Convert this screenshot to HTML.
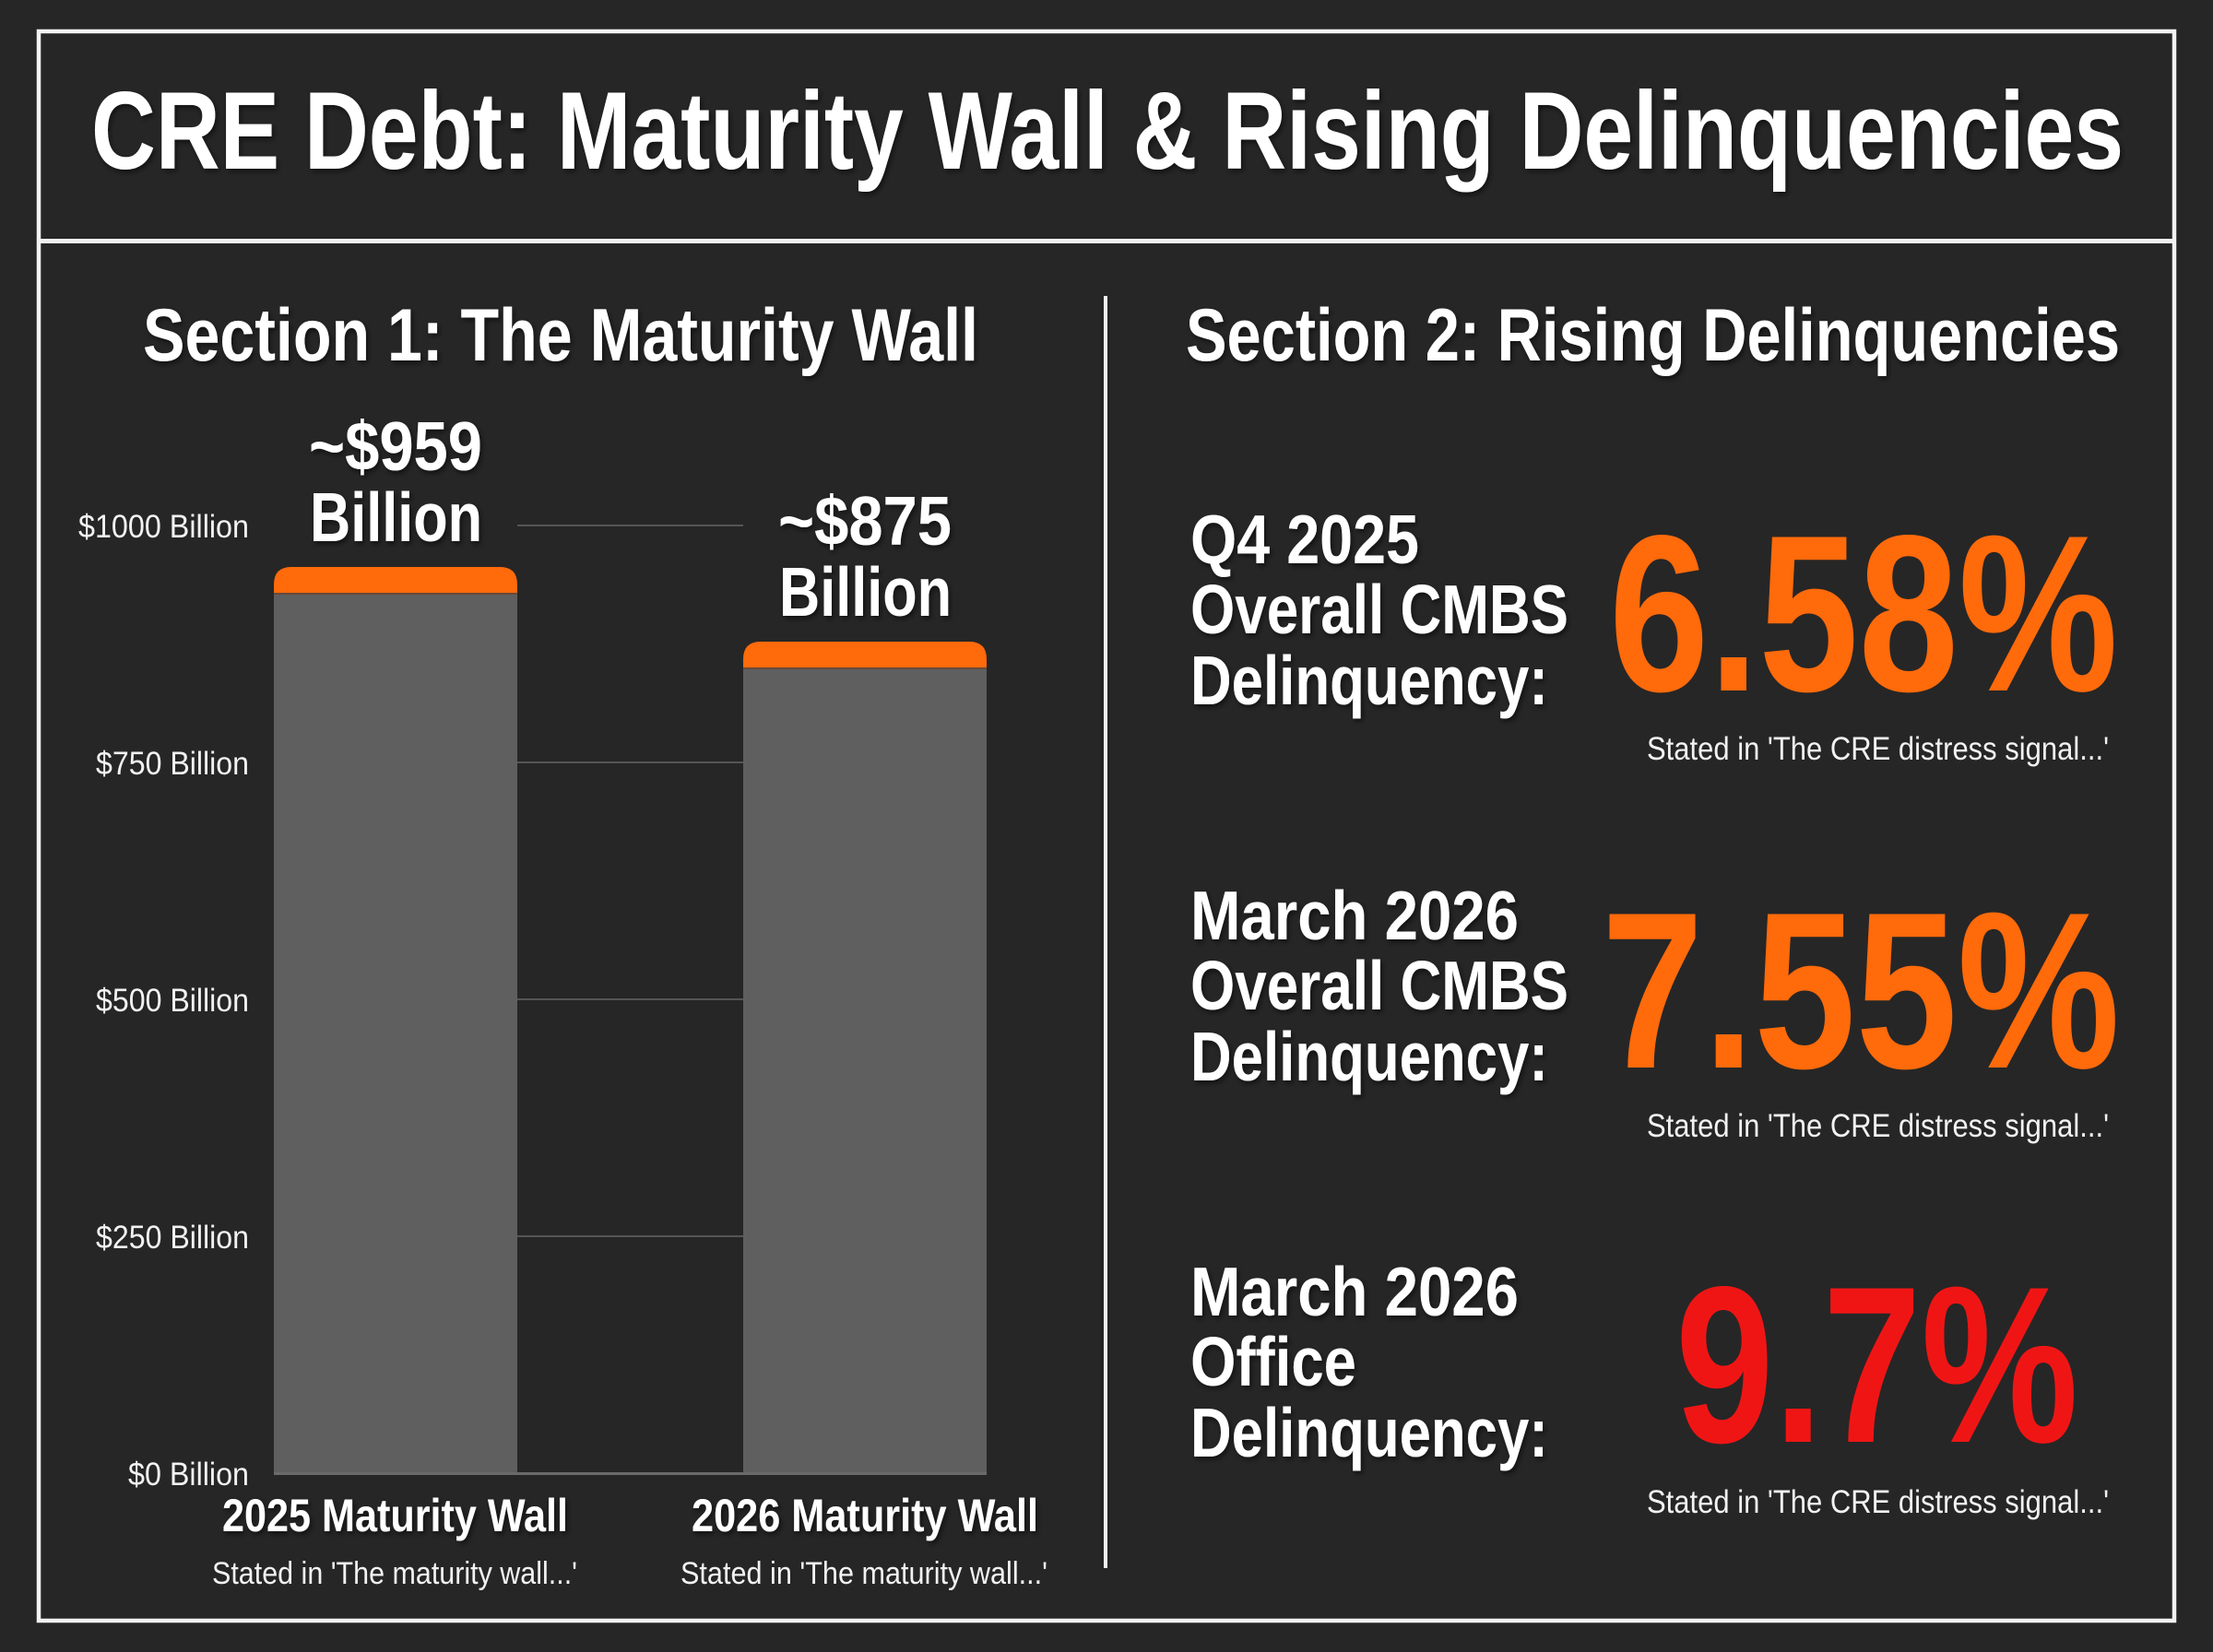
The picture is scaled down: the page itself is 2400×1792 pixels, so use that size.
<!DOCTYPE html>
<html>
<head>
<meta charset="utf-8">
<style>
  html,body{margin:0;padding:0;background:#262626;}
  svg{display:block;}
  text{font-family:"Liberation Sans",Arial,sans-serif;}
  .b{font-weight:bold;fill:#ffffff;}
  .r{font-weight:normal;fill:#f2f2f2;}
</style>
</head>
<body>
<svg width="2400" height="1792" viewBox="0 0 2400 1792" xmlns="http://www.w3.org/2000/svg">
  <defs>
    <filter id="sh" x="-5%" y="-20%" width="110%" height="140%">
      <feDropShadow dx="2" dy="3" stdDeviation="3" flood-color="#000" flood-opacity="0.55"/>
    </filter>
  </defs>
  <rect x="0" y="0" width="2400" height="1792" fill="#262626"/>

  <!-- outer border -->
  <rect x="42" y="34" width="2316" height="1724" fill="none" stroke="#f2f2f2" stroke-width="4.5"/>
  <!-- title divider -->
  <rect x="42" y="259" width="2316" height="5" fill="#f2f2f2"/>
  <!-- vertical divider -->
  <rect x="1197" y="321" width="4" height="1380" fill="#f2f2f2"/>

  <!-- Title -->
  <text class="b" x="99" y="183" font-size="120" textLength="2204" lengthAdjust="spacingAndGlyphs" filter="url(#sh)">CRE Debt: Maturity Wall &amp; Rising Delinquencies</text>

  <!-- Section titles -->
  <text class="b" x="155" y="391" font-size="81" textLength="906" lengthAdjust="spacingAndGlyphs" filter="url(#sh)">Section 1: The Maturity Wall</text>
  <text class="b" x="1286" y="391" font-size="81" textLength="1013" lengthAdjust="spacingAndGlyphs" filter="url(#sh)">Section 2: Rising Delinquencies</text>

  <!-- Gridlines (between bars) -->
  <g stroke="#555555" stroke-width="2">
    <line x1="561" y1="570" x2="806" y2="570"/>
    <line x1="561" y1="827" x2="806" y2="827"/>
    <line x1="561" y1="1084" x2="806" y2="1084"/>
    <line x1="561" y1="1341" x2="806" y2="1341"/>
  </g>

  <!-- Bars -->
  <path d="M297,644 L297,634 Q297,615 316,615 L542,615 Q561,615 561,634 L561,644 Z" fill="#ff6a0b"/>
  <rect x="297" y="644" width="264" height="954" fill="#5f5f60"/>
  <rect x="297" y="643" width="264" height="2" fill="#6a4a38"/>
  <path d="M806,725 L806,715 Q806,696 825,696 L1051,696 Q1070,696 1070,715 L1070,725 Z" fill="#ff6a0b"/>
  <rect x="806" y="725" width="264" height="873" fill="#5f5f60"/>
  <rect x="806" y="724" width="264" height="2" fill="#6a4a38"/>
  <!-- baseline -->
  <rect x="297" y="1597" width="773" height="3" fill="#6a6a6a"/>

  <!-- Y labels -->
  <g class="r" font-size="35" text-anchor="end">
    <text class="r" x="270" y="583" textLength="185" lengthAdjust="spacingAndGlyphs">$1000 Billion</text>
    <text class="r" x="270" y="840" textLength="166" lengthAdjust="spacingAndGlyphs">$750 Billion</text>
    <text class="r" x="270" y="1097" textLength="166" lengthAdjust="spacingAndGlyphs">$500 Billion</text>
    <text class="r" x="270" y="1354" textLength="166" lengthAdjust="spacingAndGlyphs">$250 Billion</text>
    <text class="r" x="270" y="1611" textLength="131" lengthAdjust="spacingAndGlyphs">$0 Billion</text>
  </g>

  <!-- Value labels -->
  <g filter="url(#sh)">
    <text class="b" x="335" y="510" font-size="75" textLength="188" lengthAdjust="spacingAndGlyphs">~$959</text>
    <text class="b" x="336" y="587" font-size="75" textLength="187" lengthAdjust="spacingAndGlyphs">Billion</text>
    <text class="b" x="844" y="591" font-size="75" textLength="188" lengthAdjust="spacingAndGlyphs">~$875</text>
    <text class="b" x="845" y="668" font-size="75" textLength="187" lengthAdjust="spacingAndGlyphs">Billion</text>
  </g>

  <!-- Category labels -->
  <g filter="url(#sh)">
    <text class="b" x="241" y="1661" font-size="50" textLength="375" lengthAdjust="spacingAndGlyphs">2025 Maturity Wall</text>
    <text class="b" x="750" y="1661" font-size="50" textLength="376" lengthAdjust="spacingAndGlyphs">2026 Maturity Wall</text>
  </g>
  <text class="r" x="230" y="1718" font-size="34" textLength="396" lengthAdjust="spacingAndGlyphs">Stated in 'The maturity wall...'</text>
  <text class="r" x="738" y="1718" font-size="34" textLength="398" lengthAdjust="spacingAndGlyphs">Stated in 'The maturity wall...'</text>

  <!-- Section 2 labels -->
  <g filter="url(#sh)">
    <text class="b" x="1291" y="611" font-size="75" textLength="248" lengthAdjust="spacingAndGlyphs">Q4 2025</text>
    <text class="b" x="1291" y="687" font-size="75" textLength="410" lengthAdjust="spacingAndGlyphs">Overall CMBS</text>
    <text class="b" x="1291" y="764" font-size="75" textLength="388" lengthAdjust="spacingAndGlyphs">Delinquency:</text>

    <text class="b" x="1291" y="1019" font-size="75" textLength="356" lengthAdjust="spacingAndGlyphs">March 2026</text>
    <text class="b" x="1291" y="1095" font-size="75" textLength="410" lengthAdjust="spacingAndGlyphs">Overall CMBS</text>
    <text class="b" x="1291" y="1172" font-size="75" textLength="388" lengthAdjust="spacingAndGlyphs">Delinquency:</text>

    <text class="b" x="1291" y="1427" font-size="75" textLength="356" lengthAdjust="spacingAndGlyphs">March 2026</text>
    <text class="b" x="1291" y="1503" font-size="75" textLength="180" lengthAdjust="spacingAndGlyphs">Office</text>
    <text class="b" x="1291" y="1580" font-size="75" textLength="388" lengthAdjust="spacingAndGlyphs">Delinquency:</text>
  </g>

  <!-- Big numbers -->
  <text x="1745" y="749" font-size="242" font-weight="bold" fill="#ff6a0b" textLength="552" lengthAdjust="spacingAndGlyphs">6.58%</text>
  <text x="1737" y="1158" font-size="242" font-weight="bold" fill="#ff6a0b" textLength="562" lengthAdjust="spacingAndGlyphs">7.55%</text>
  <text x="1817" y="1564" font-size="242" font-weight="bold" fill="#f01515" textLength="437" lengthAdjust="spacingAndGlyphs">9.7%</text>

  <!-- Source lines -->
  <text class="r" x="1786" y="824" font-size="35" textLength="501" lengthAdjust="spacingAndGlyphs">Stated in 'The CRE distress signal...'</text>
  <text class="r" x="1786" y="1233" font-size="35" textLength="501" lengthAdjust="spacingAndGlyphs">Stated in 'The CRE distress signal...'</text>
  <text class="r" x="1786" y="1641" font-size="35" textLength="501" lengthAdjust="spacingAndGlyphs">Stated in 'The CRE distress signal...'</text>
</svg>
</body>
</html>
